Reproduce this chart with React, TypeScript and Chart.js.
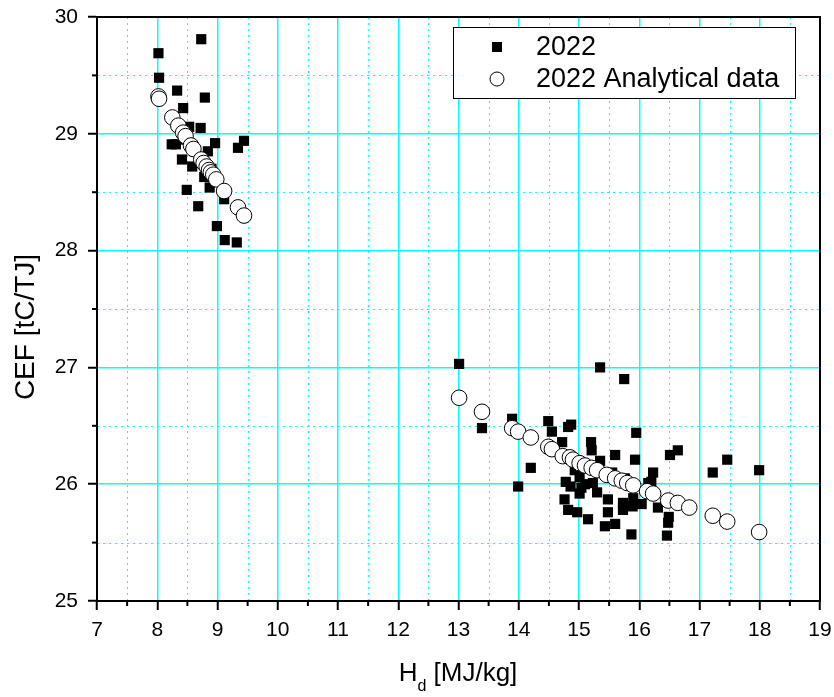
import React, { useEffect, useRef } from "react";
import { Chart, registerables } from "chart.js";

Chart.register(...registerables);

const measuredX = [
  8.73, 8.02, 8.03, 8.33, 8.79, 8.43, 8.53, 8.72, 8.96, 9.44, 8.24, 8.31, 9.34, 8.41, 8.84, 8.58, 8.78, 8.49, 8.87, 9.11, 8.68, 8.99, 9.12, 9.32, 8.62, 8.9, 8.48,
  13.01, 13.39, 13.89, 14.2, 13.99, 14.49, 14.55, 14.82, 14.87, 14.72, 15.35, 15.75, 15.2, 15.21, 15.6, 15.95, 15.93, 15.35, 14.78, 14.86, 15.04, 15.01, 14.76, 14.82, 14.97, 15.15, 15.48, 15.48, 15.73, 15.89, 16.23, 16.15, 16.51, 16.64, 17.22, 17.46, 17.99, 16.31, 16.49, 16.48, 16.46, 15.87, 16.04, 15.73, 15.43, 15.6, 15.01, 15.23, 15.76, 14.93, 15.1, 15.55, 15.3, 15.9, 16.2,
];
const measuredY = [
  29.81, 29.69, 29.48, 29.37, 29.31, 29.22, 29.06, 29.05, 28.92, 28.94, 28.91, 28.91, 28.88, 28.78, 28.85, 28.72, 28.63, 28.52, 28.54, 28.44, 28.38, 28.21, 28.09, 28.07, 28.85, 28.7, 28.95,
  27.03, 26.48, 26.56, 26.14, 25.98, 26.54, 26.45, 26.49, 26.51, 26.36, 27.0, 26.9, 26.36, 26.29, 26.25, 26.44, 26.21, 26.2, 26.02, 25.98, 25.97, 25.92, 25.87, 25.78, 25.76, 25.7, 25.87, 25.76, 25.84, 25.81, 26.1, 26.01, 26.25, 26.29, 26.1, 26.21, 26.12, 25.8, 25.72, 25.67, 25.56, 25.57, 25.83, 25.78, 25.64, 25.66, 26.06, 26.01, 26.05, 26.12, 26.0, 26.1, 25.93, 25.88, 26.02,
];

const analyticalX = [
  8.02, 8.03, 8.25, 8.35, 8.43, 8.47, 8.56, 8.6, 8.73, 8.77, 8.82, 8.86, 8.89, 8.93, 8.98, 9.11, 9.34, 9.44,
  13.01, 13.39, 13.89, 13.99, 14.2, 14.49, 14.55, 14.73, 14.85, 14.9, 15.01, 15.1, 15.21, 15.3, 15.46, 15.6, 15.71, 15.8, 15.9, 16.13, 16.23, 16.48, 16.64, 16.83, 17.22, 17.46, 17.99,
];
const analyticalY = [
  29.32, 29.3, 29.14, 29.07, 29.01, 28.98, 28.9, 28.87, 28.78, 28.75, 28.72, 28.69, 28.67, 28.65, 28.61, 28.51, 28.37, 28.3,
  26.74, 26.62, 26.48, 26.45, 26.4, 26.32, 26.3, 26.24, 26.23, 26.21, 26.18, 26.16, 26.14, 26.12, 26.08, 26.05, 26.03, 26.01, 25.99, 25.94, 25.92, 25.86, 25.84, 25.8, 25.73, 25.68, 25.59,
];

const seriesLabels = ["2022", "2022 Analytical data"];
const xTitleMain = "H";
const xTitleSub = "d";
const xTitleRest = " [MJ/kg]";
const yTitle = "CEF [tC/TJ]";

const X_MIN = 7, X_MAX = 19, Y_MIN = 25, Y_MAX = 30;
const FONT = "'Liberation Sans', Arial, sans-serif";

const extrasPlugin = {
  id: "extras",
  beforeDatasetsDraw(chart: any) {
    const { ctx, chartArea: a, scales } = chart;
    const xs = scales.x, ys = scales.y;
    ctx.save();
    ctx.strokeStyle = "#00ffff";
    ctx.lineWidth = 1;
    ctx.setLineDash([2, 4]);
    for (let v = X_MIN + 0.5; v < X_MAX; v += 1) {
      const px = Math.round(xs.getPixelForValue(v)) + 0.5;
      ctx.beginPath(); ctx.moveTo(px, a.top); ctx.lineTo(px, a.bottom); ctx.stroke();
    }
    for (let v = Y_MIN + 0.5; v < Y_MAX; v += 1) {
      const py = Math.round(ys.getPixelForValue(v)) + 0.5;
      ctx.beginPath(); ctx.moveTo(a.left, py); ctx.lineTo(a.right, py); ctx.stroke();
    }
    ctx.restore();
  },
  afterDraw(chart: any) {
    const { ctx, chartArea: a, scales } = chart;
    const xs = scales.x, ys = scales.y;
    ctx.save();
    // frame
    ctx.strokeStyle = "#000";
    ctx.lineWidth = 2;
    ctx.strokeRect(a.left, a.top, a.right - a.left, a.bottom - a.top);
    // minor ticks
    ctx.lineWidth = 2;
    for (let v = X_MIN + 0.5; v < X_MAX; v += 1) {
      const px = xs.getPixelForValue(v);
      ctx.beginPath(); ctx.moveTo(px, a.bottom); ctx.lineTo(px, a.bottom + 5); ctx.stroke();
    }
    for (let v = Y_MIN + 0.5; v < Y_MAX; v += 1) {
      const py = ys.getPixelForValue(v);
      ctx.beginPath(); ctx.moveTo(a.left, py); ctx.lineTo(a.left - 5, py); ctx.stroke();
    }
    // x title with subscript
    ctx.fillStyle = "#000";
    ctx.textBaseline = "alphabetic";
    ctx.textAlign = "left";
    const big = "26px " + FONT;
    const small = "16px " + FONT;
    ctx.font = big;
    const wH = ctx.measureText(xTitleMain).width;
    const wR = ctx.measureText(xTitleRest).width;
    ctx.font = small;
    const wS = ctx.measureText(xTitleSub).width;
    const total = wH + wS + wR;
    const cx = 458;
    const x0 = cx - total / 2;
    const base = 681;
    ctx.font = big;
    ctx.fillText(xTitleMain, x0, base);
    ctx.font = small;
    ctx.fillText(xTitleSub, x0 + wH, base + 10);
    ctx.font = big;
    ctx.fillText(xTitleRest, x0 + wH + wS, base);
    // y title
    ctx.save();
    ctx.translate(26, 327);
    ctx.rotate(-Math.PI / 2);
    ctx.textAlign = "center";
    ctx.textBaseline = "middle";
    ctx.font = "28px " + FONT;
    ctx.fillText(yTitle, 0, 0);
    ctx.restore();
    // legend
    const lx = 453, ly = 27, lw = 342, lh = 71;
    ctx.fillStyle = "#fff";
    ctx.fillRect(lx, ly, lw, lh);
    ctx.strokeStyle = "#000";
    ctx.lineWidth = 1;
    ctx.strokeRect(lx + 0.5, ly + 0.5, lw, lh);
    ctx.fillStyle = "#000";
    ctx.fillRect(497 - 5, 47 - 5, 10, 10);
    ctx.beginPath();
    ctx.arc(497, 79, 7, 0, Math.PI * 2);
    ctx.fillStyle = "#fff";
    ctx.fill();
    ctx.strokeStyle = "#000";
    ctx.stroke();
    ctx.fillStyle = "#000";
    ctx.font = "27px " + FONT;
    ctx.textAlign = "left";
    ctx.textBaseline = "middle";
    ctx.fillText(seriesLabels[0], 536, 48);
    ctx.fillText(seriesLabels[1], 536, 80);
    ctx.restore();
  },
};

export default function App() {
  const ref = useRef<HTMLCanvasElement | null>(null);
  useEffect(() => {
    document.body.style.margin = "0";
    const canvas = ref.current;
    if (!canvas) return;
    const measured = measuredX.map((x, i) => ({ x, y: measuredY[i] }));
    const analytical = analyticalX.map((x, i) => ({ x, y: analyticalY[i] }));
    const chart = new Chart(canvas, {
      type: "scatter",
      data: {
        datasets: [
          {
            label: seriesLabels[0],
            data: measured,
            pointStyle: "rect",
            pointRadius: 7.2,
            backgroundColor: "#000",
            borderColor: "#000",
            borderWidth: 0,
            order: 2,
          },
          {
            label: seriesLabels[1],
            data: analytical,
            pointStyle: "circle",
            pointRadius: 7.8,
            backgroundColor: "#fff",
            borderColor: "#000",
            borderWidth: 1,
            order: 1,
          },
        ],
      },
      options: {
        animation: false,
        responsive: false,
        devicePixelRatio: 1,
        layout: { padding: { top: 17, right: 14, left: 0, bottom: 0 } },
        plugins: { legend: { display: false }, tooltip: { enabled: false } },
        scales: {
          x: {
            type: "linear",
            min: X_MIN,
            max: X_MAX,
            afterFit: (s: any) => { s.height = 96; s.paddingLeft = 0; s.paddingRight = 0; },
            ticks: { stepSize: 1, color: "#000", font: { family: FONT, size: 21 }, padding: 8, maxRotation: 0 },
            grid: { color: "#00ffff", lineWidth: 1.5, tickColor: "#000", tickLength: 9, tickWidth: 2 },
            border: { color: "#000", width: 2 },
          },
          y: {
            type: "linear",
            min: Y_MIN,
            max: Y_MAX,
            afterFit: (s: any) => { s.width = 97; s.paddingTop = 0; s.paddingBottom = 0; },
            ticks: { stepSize: 1, color: "#000", font: { family: FONT, size: 21 }, padding: 10 },
            grid: { color: "#00ffff", lineWidth: 1.5, tickColor: "#000", tickLength: 9, tickWidth: 2 },
            border: { color: "#000", width: 2 },
          },
        },
      },
      plugins: [extrasPlugin],
    });
    return () => chart.destroy();
  }, []);
  return <canvas ref={ref} width={834} height={697} style={{ display: "block" }} />;
}
